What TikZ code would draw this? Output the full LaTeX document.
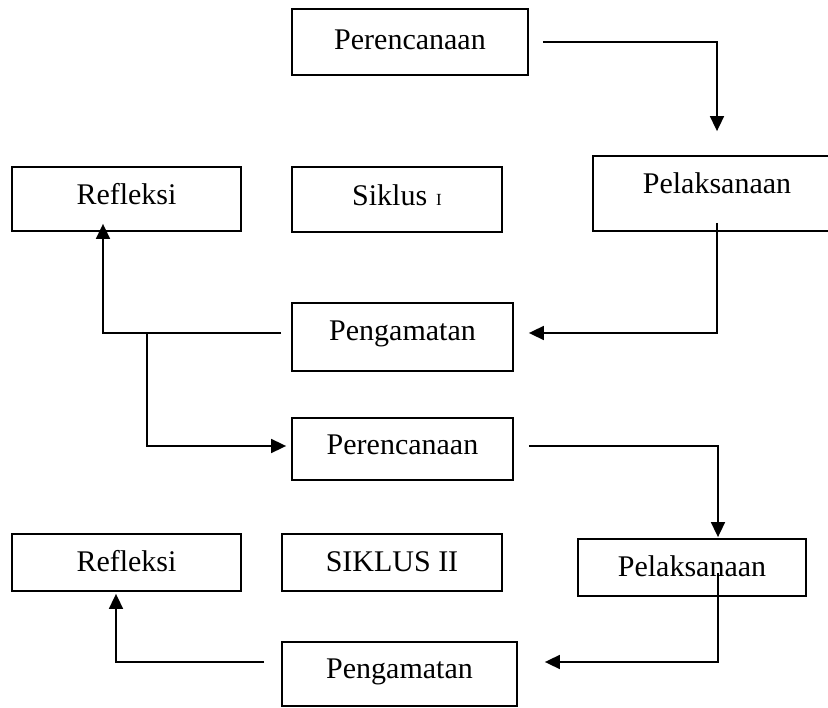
\documentclass[tikz,border=0pt]{standalone}
\usepackage{fontspec}
\setmainfont{Liberation Serif}
\usetikzlibrary{arrows.meta}
\begin{document}
\begin{tikzpicture}[x=1pt,y=-1pt,
  box/.style={draw, line width=1.8pt, inner sep=0pt, font=\fontsize{30pt}{36pt}\selectfont, text height=20pt},
  arr/.style={line width=1.7pt, -{Triangle[length=15pt,width=14pt]}}]
\useasboundingbox (0,0) rectangle (828,708);
\fill[white] (0,0) rectangle (828,708);
\clip (0,0) rectangle (828,708);

% Siklus I
\node[box, minimum width=236pt, minimum height=66pt, text depth=4pt]  (per1) at (410,42)     {Perencanaan};
\node[box, minimum width=229pt, minimum height=64pt, text depth=8pt]  (ref1) at (126.5,199)  {Refleksi};
\node[box, minimum width=210pt, minimum height=65pt, text depth=8pt]  (sik1) at (397,199.5)  {Siklus\hspace{0.3em}{\fontsize{17pt}{17pt}\selectfont I}};
\node[box, minimum width=248pt, minimum height=75pt, text depth=20pt] (pel1) at (717,193.5)  {Pelaksanaan};
\node[box, minimum width=221pt, minimum height=68pt, text depth=12pt] (peng1) at (402.5,337) {Pengamatan};

% Siklus II
\node[box, minimum width=221pt, minimum height=62pt, text depth=8pt]  (per2) at (402.5,449)  {Perencanaan};
\node[box, minimum width=229pt, minimum height=57pt, text depth=2pt]  (ref2) at (126.5,562.5) {Refleksi};
\node[box, minimum width=220pt, minimum height=57pt, text depth=2pt]  (sik2) at (392,562.5)  {SIKLUS II};
\node[box, minimum width=228pt, minimum height=57pt, text depth=2pt]  (pel2) at (692,567.5)  {Pelaksanaan};
\node[box, minimum width=235pt, minimum height=64pt, text depth=12pt] (peng2) at (399.5,674) {Pengamatan};

% connectors, cycle I
\draw[arr] ([xshift=14pt]per1.east) -| ([yshift=24pt]pel1.north);
\draw[arr] ([yshift=9pt]pel1.south) |- ([xshift=15pt,yshift=4pt]peng1.east);
\draw[arr] ([xshift=-10pt,yshift=4pt]peng1.west) -| ([xshift=-23.5pt,yshift=8pt]ref1.south);
\coordinate (j) at (147,333);
\draw[arr] (j) |- ([xshift=-5pt,yshift=3pt]per2.west);

% connectors, cycle II
\draw[arr] ([xshift=15pt,yshift=3pt]per2.east) -| ([xshift=26pt,yshift=1pt]pel2.north);
\draw[arr] ([xshift=26pt,yshift=-5.5pt]pel2.center) |- ([xshift=27pt,yshift=12pt]peng2.east);
\draw[arr] ([xshift=-17pt,yshift=12pt]peng2.west) -| ([xshift=-10.5pt,yshift=-2pt]ref2.south);
\end{tikzpicture}
\end{document}
